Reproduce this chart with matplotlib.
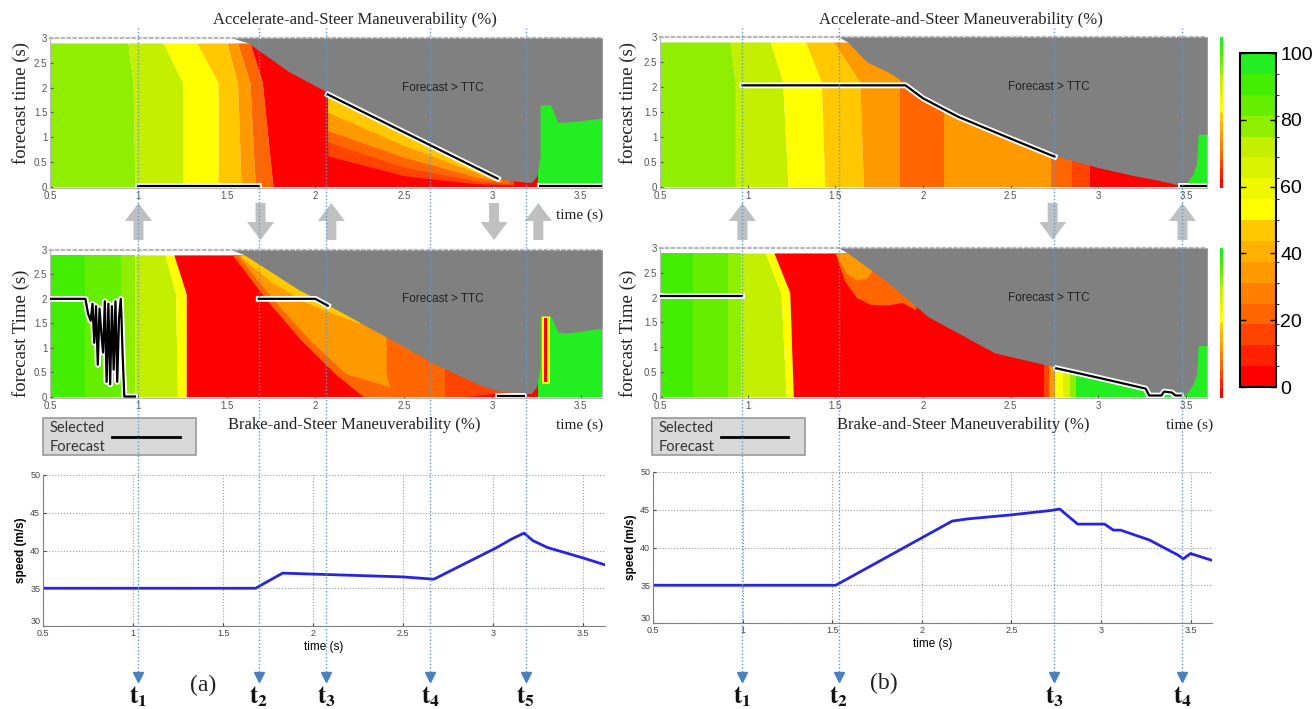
import numpy as np
import matplotlib.pyplot as plt
import matplotlib.patheffects as pe
from matplotlib.colors import ListedColormap, BoundaryNorm
from matplotlib.lines import Line2D
from matplotlib.patches import FancyArrow, Rectangle
from matplotlib.transforms import blended_transform_factory, IdentityTransform
from matplotlib.ticker import FuncFormatter
from matplotlib.cm import ScalarMappable

W, H = 1315, 709
plt.rcParams['font.family'] = ['Liberation Sans', 'DejaVu Sans']
plt.rcParams['mathtext.fontset'] = 'stix'

# maneuverability colour scale, 0..100 %
SCALE_COLORS = ['#ff0000', '#ff2200', '#ff4400', '#ff6600', '#ff8000', '#ff9900',
                '#ffb000', '#ffc800', '#ffff00', '#f0f800', '#d8f200', '#c4f000',
                '#90ee00', '#66ee00', '#44ee00', '#22ee22']
SCALE_TICKS = [0, 20, 40, 60, 80, 100]
GRAY = '#808080'

# ---------------- case (a) ----------------
ACC_A_YK = [0.0, 2.1, 2.9]
ACC_A_EDGES = [[0.50, 0.50, 0.50], [0.98, 0.97, 0.94], [1.25, 1.25, 1.14],
               [1.45, 1.45, 1.33], [1.58, 1.56, 1.50], [1.66, 1.63, 1.56],
               [1.76, 1.70, 1.63], [3.26, 3.26, 3.26], [3.62, 3.62, 3.62]]
ACC_A_VALUES = [78, 72, 53, 47, 34, 22, 3, 97]
ACC_A_COLS = []
ACC_A_STRIPS = [([2.07, 2.5, 2.9, 3.12], [0.62, 0.22, 0.06, 0.03], [2.9, 2.9, 2.9, 2.9], 15),
                ([2.07, 2.5, 2.9, 3.1], [0.90, 0.39, 0.12, 0.06], [2.9, 2.9, 2.9, 2.9], 22),
                ([2.07, 2.5, 2.9, 3.05], [1.13, 0.59, 0.20, 0.09], [2.9, 2.9, 2.9, 2.9], 34),
                ([2.07, 2.5, 2.9, 3.0], [1.50, 0.83, 0.30, 0.15], [2.9, 2.9, 2.9, 2.9], 47)]
ACC_A_TTC_X = [1.53, 1.62, 1.85, 2.07, 3.0, 3.1, 3.22, 3.25, 3.27, 3.27, 3.33, 3.37, 3.42, 3.62]
ACC_A_TTC_Y = [3.0, 2.9, 2.32, 1.90, 0.20, 0.12, 0.08, 0.2, 0.6, 1.65, 1.65, 1.30, 1.30, 1.38]
ACC_A_SEL = [([1.0, 1.68], [0.02, 0.02]),
             ([2.07, 3.03], [1.86, 0.16]),
             ([3.27, 3.62], [0.02, 0.02])]

BRK_A_YK = [0.0, 2.1, 2.9]
BRK_A_EDGES = [[0.50, 0.50, 0.50], [0.70, 0.70, 0.70], [0.90, 0.90, 0.90],
               [0.98, 0.98, 0.98], [1.22, 1.21, 1.15], [1.27, 1.27, 1.20],
               [3.26, 3.26, 3.26], [3.62, 3.62, 3.62]]
BRK_A_VALUES = [90, 84, 78, 72, 53, 3, 97]
BRK_A_COLS = [([0.0, 0.47, 1.15, 1.95, 2.9], [2.27, 2.11, 1.92, 1.73, 1.53], [3.2, 3.2, 3.2, 3.2, 3.2], 22),
              ([0.2, 0.47, 1.15, 1.95, 2.9], [2.42, 2.17, 1.97, 1.77, 1.56], [2.42, 2.40, 2.40, 2.40, 2.40], 34)]
BRK_A_STRIPS = [([1.58, 1.75, 1.95, 2.10, 2.25], [2.85, 2.35, 1.92, 1.70, 1.50], [2.9, 2.9, 2.9, 2.9, 2.9], 47),
                ([2.73, 3.22], [0.0, 0.0], [2.9, 2.9], 15),
                ([2.85, 3.0, 3.22], [0.0, 0.0, 0.0], [0.0, 0.06, 0.06], 3),
                ([3.28, 3.325], [0.25, 0.25], [1.65, 1.65], 53),
                ([3.295, 3.31], [0.3, 0.3], [1.6, 1.6], 3)]
BRK_A_TTC_X = [1.53, 1.60, 1.75, 1.90, 2.07, 2.40, 2.70, 2.94, 3.05, 3.22, 3.25, 3.27, 3.27, 3.33, 3.37, 3.42, 3.62]
BRK_A_TTC_Y = [3.0, 2.9, 2.55, 2.20, 1.88, 1.22, 0.62, 0.22, 0.10, 0.06, 0.2, 0.6, 1.65, 1.65, 1.32, 1.30, 1.40]
BRK_A_SEL = [([0.5, 0.70, 0.715, 0.73, 0.74, 0.75, 0.76, 0.77, 0.78, 0.79, 0.80, 0.81, 0.82,
               0.83, 0.84, 0.85, 0.86, 0.87, 0.88, 0.89, 0.90, 0.905, 0.91, 0.92, 0.98],
              [2.0, 2.0, 1.7, 1.55, 1.9, 1.1, 1.85, 0.65, 1.8, 1.3, 0.9, 1.95, 0.3,
               1.9, 0.25, 1.85, 0.55, 1.95, 0.3, 1.6, 2.0, 1.5, 0.9, 0.0, 0.0]),
             ([1.68, 2.0, 2.07], [2.0, 2.0, 1.86]),
             ([3.03, 3.18], [0.02, 0.02])]

SPEED_A_T = [0.5, 1.68, 1.83, 2.1, 2.5, 2.67, 3.02, 3.1, 3.17, 3.22, 3.3, 3.5, 3.62]
SPEED_A_V = [35.0, 35.0, 37.0, 36.8, 36.5, 36.2, 40.4, 41.5, 42.3, 41.3, 40.4, 39.0, 38.1]
T_MARKS_A = [1.0, 1.68, 2.06, 2.65, 3.19]
ARROWS_A_X = [1.0, 1.69, 2.09, 3.01, 3.26]
ARROWS_A_DIR = ['up', 'down', 'up', 'down', 'up']

# ---------------- case (b) ----------------
ACC_B_YK = [0.0, 2.1, 2.9]
ACC_B_EDGES = [[0.50, 0.50, 0.50], [0.93, 0.93, 0.90], [1.23, 1.20, 1.13],
               [1.44, 1.42, 1.33], [1.66, 1.64, 1.49], [1.87, 1.87, 1.87],
               [2.12, 2.12, 2.12], [2.73, 2.73, 2.73], [2.85, 2.85, 2.85],
               [2.95, 2.95, 2.95], [3.47, 3.47, 3.47], [3.62, 3.62, 3.62]]
ACC_B_VALUES = [78, 72, 53, 47, 34, 22, 34, 22, 15, 3, 97]
ACC_B_COLS = []
ACC_B_STRIPS = []
ACC_B_TTC_X = [1.52, 1.57, 1.68, 1.80, 1.90, 2.0, 2.2, 2.5, 2.75, 3.0, 3.2, 3.35, 3.47, 3.5, 3.54, 3.56, 3.57, 3.62]
ACC_B_TTC_Y = [3.0, 2.9, 2.5, 2.3, 2.08, 1.80, 1.42, 0.98, 0.62, 0.38, 0.22, 0.12, 0.02, 0.05, 0.25, 0.45, 1.05, 1.05]
ACC_B_SEL = [([0.97, 1.9, 2.0, 2.2, 2.5, 2.75], [2.03, 2.03, 1.77, 1.40, 0.96, 0.60]),
             ([3.47, 3.62], [0.02, 0.02])]

BRK_B_YK = [0.0, 2.1, 2.9]
BRK_B_EDGES = [[0.50, 0.50, 0.50], [0.69, 0.69, 0.69], [0.89, 0.89, 0.89],
               [0.96, 0.96, 0.96], [1.22, 1.19, 1.10], [1.26, 1.24, 1.15],
               [2.69, 2.69, 2.69], [2.72, 2.72, 2.72], [2.755, 2.755, 2.755],
               [2.80, 2.80, 2.80], [2.84, 2.84, 2.84], [2.87, 2.87, 2.87],
               [3.62, 3.62, 3.62]]
BRK_B_VALUES = [90, 84, 78, 72, 53, 3, 15, 34, 53, 65, 78, 97]
BRK_B_COLS = []
BRK_B_STRIPS = [([1.50, 1.55, 1.62, 1.70, 1.80, 1.88, 1.96], [2.9, 2.35, 2.0, 1.86, 1.85, 1.90, 1.75], [2.9] * 7, 22),
                ([1.50, 1.56, 1.62, 1.68, 1.72], [2.9, 2.5, 2.35, 2.40, 2.60], [2.9] * 5, 34)]
BRK_B_TTC_X = [1.52, 1.57, 1.78, 2.03, 2.41, 2.75, 3.0, 3.27, 3.29, 3.36, 3.375, 3.42, 3.44, 3.47, 3.5, 3.54, 3.56, 3.57, 3.62]
BRK_B_TTC_Y = [3.0, 2.9, 2.36, 1.61, 0.88, 0.60, 0.40, 0.18, 0.04, 0.04, 0.12, 0.10, 0.04, 0.02, 0.05, 0.25, 0.45, 1.03, 1.03]
BRK_B_SEL = [([0.5, 0.97], [2.03, 2.03]),
             ([2.76, 3.0, 3.27, 3.29, 3.36, 3.375, 3.42, 3.44, 3.47],
              [0.57, 0.38, 0.16, 0.02, 0.02, 0.10, 0.08, 0.02, 0.02])]

SPEED_B_T = [0.5, 1.52, 2.17, 2.26, 2.49, 2.72, 2.77, 2.87, 3.02, 3.07, 3.11, 3.27, 3.43, 3.46, 3.5, 3.62]
SPEED_B_V = [35.0, 35.0, 43.5, 43.8, 44.3, 44.9, 45.1, 43.1, 43.1, 42.3, 42.3, 41.0, 39.0, 38.5, 39.2, 38.3]
T_MARKS_B = [0.97, 1.52, 2.75, 3.48]
ARROWS_B_X = [0.97, 2.74, 3.48]
ARROWS_B_DIR = ['up', 'down', 'up']

XLIM = (0.5, 3.62)

cmap = ListedColormap(SCALE_COLORS)
norm = BoundaryNorm(np.linspace(0, 100, len(SCALE_COLORS) + 1), cmap.N)


def col(v):
    return cmap(norm(v))


def box(x0, y0, x1, y1):
    # pixel box (top-left origin) -> figure fraction rect
    return [x0 / W, 1 - y1 / H, (x1 - x0) / W, (y1 - y0) / H]


def fx(x):
    return x / W


def fy(y):
    return 1 - y / H


fmt = FuncFormatter(lambda v, _: f'{v:g}')

fig = plt.figure(figsize=(W / 100, H / 100), dpi=100)


def heatmap(rect, yk, edges, values, cols, strips, ttc_x, ttc_y, sel):
    ax = fig.add_axes(box(*rect))
    for i, v in enumerate(values):
        ax.fill_betweenx(yk, edges[i], edges[i + 1], color=col(v), lw=0, zorder=1)
    for y, xl, xr, v in cols:
        ax.fill_betweenx(y, xl, xr, color=col(v), lw=0, zorder=2)
    for x, lo, hi, v in strips:
        ax.fill_between(x, lo, hi, color=col(v), lw=0, zorder=2)
    ax.fill_between(ttc_x, ttc_y, 3.0, color=GRAY, lw=0, zorder=3)
    for x, y in sel:
        ax.plot(x, y, color='black', lw=1.6, zorder=4, solid_joinstyle='round',
                path_effects=[pe.withStroke(linewidth=4.2, foreground='white')])
    ax.set_xlim(*XLIM)
    ax.set_ylim(-0.03, 3.0)
    ax.set_xticks([0.5, 1, 1.5, 2, 2.5, 3, 3.5])
    ax.set_yticks([0, 0.5, 1, 1.5, 2, 2.5, 3])
    ax.xaxis.set_major_formatter(fmt)
    ax.yaxis.set_major_formatter(fmt)
    ax.tick_params(direction='in', length=2, labelsize=7, pad=2, colors='#555555')
    for s in ax.spines.values():
        s.set_color('#b8b8b8')
        s.set_linewidth(0.8)
    ax.spines['top'].set_linestyle(':')
    ax.spines['top'].set_linewidth(1.6)
    ax.text(2.72, 2.0, 'Forecast > TTC', fontsize=8.5, color='#222222',
            ha='center', va='center', zorder=5)
    return ax


def speed(rect, t, v):
    ax = fig.add_axes(box(*rect))
    ax.plot(t, v, color='#2626e0', lw=2)
    ax.set_xlim(*XLIM)
    ax.set_ylim(30, 50)
    ax.set_xticks([0.5, 1, 1.5, 2, 2.5, 3, 3.5])
    ax.set_yticks([30, 35, 40, 45, 50])
    ax.xaxis.set_major_formatter(fmt)
    ax.grid(True, ls=':', color='#9a9a9a', lw=0.8)
    ax.tick_params(direction='in', length=2, labelsize=6.5, pad=2, colors='#444444')
    for s in ['top', 'right']:
        ax.spines[s].set_visible(False)
    for s in ['left', 'bottom']:
        ax.spines[s].set_color('#808080')
    ax.set_xlabel('time (s)', fontsize=8.5, labelpad=2)
    ax.set_ylabel('speed (m/s)', fontsize=8.5, fontweight='bold', labelpad=2)
    # the lowest y label sits just above the corner, clear of the first x label
    ax.get_yticklabels()[0].set_verticalalignment('bottom')
    return ax


ax_acc_a = heatmap((50, 38, 602, 188), ACC_A_YK, ACC_A_EDGES, ACC_A_VALUES, ACC_A_COLS,
                   ACC_A_STRIPS, ACC_A_TTC_X, ACC_A_TTC_Y, ACC_A_SEL)
ax_brk_a = heatmap((50, 250, 602, 398), BRK_A_YK, BRK_A_EDGES, BRK_A_VALUES, BRK_A_COLS,
                   BRK_A_STRIPS, BRK_A_TTC_X, BRK_A_TTC_Y, BRK_A_SEL)
ax_acc_b = heatmap((660, 37, 1207, 188), ACC_B_YK, ACC_B_EDGES, ACC_B_VALUES, ACC_B_COLS,
                   ACC_B_STRIPS, ACC_B_TTC_X, ACC_B_TTC_Y, ACC_B_SEL)
ax_brk_b = heatmap((660, 248, 1207, 398), BRK_B_YK, BRK_B_EDGES, BRK_B_VALUES, BRK_B_COLS,
                   BRK_B_STRIPS, BRK_B_TTC_X, BRK_B_TTC_Y, BRK_B_SEL)
ax_spd_a = speed((43, 475, 605, 626), SPEED_A_T, SPEED_A_V)
ax_spd_b = speed((653, 472, 1212, 623), SPEED_B_T, SPEED_B_V)

# serif captions
serif = dict(family='Liberation Serif', color='#222222')
fig.text(fx(355), fy(20), 'Accelerate-and-Steer Maneuverability (%)', ha='center', va='center', fontsize=12, **serif)
fig.text(fx(961), fy(20), 'Accelerate-and-Steer Maneuverability (%)', ha='center', va='center', fontsize=12, **serif)
fig.text(fx(354), fy(425), 'Brake-and-Steer Maneuverability (%)', ha='center', va='center', fontsize=12, **serif)
fig.text(fx(963), fy(425), 'Brake-and-Steer Maneuverability (%)', ha='center', va='center', fontsize=12, **serif)
for xr, yc in [(603, 215), (603, 425), (1213, 425)]:
    fig.text(fx(xr), fy(yc), 'time (s)', ha='right', va='center', fontsize=11, **serif)
for xc, yc, lab in [(21, 103, 'forecast time (s)'), (21, 333, 'forecast Time (s)'),
                    (628, 103, 'forecast time (s)'), (628, 333, 'forecast Time (s)')]:
    fig.text(fx(xc), fy(yc), lab, rotation=90, ha='center', va='center', fontsize=13.5, **serif)
fig.text(fx(203), fy(685), '(a)', ha='center', va='center', fontsize=17, **serif)
fig.text(fx(884), fy(683), '(b)', ha='center', va='center', fontsize=17, **serif)

# "Selected Forecast" key boxes
for x0, lx0, lx1 in [(43, 112, 180), (652, 721, 788)]:
    fig.add_artist(Rectangle((fx(x0), fy(455)), 153 / W, 37 / H, transform=fig.transFigure,
                             fc='#d9d9d9', ec='#9a9a9a', lw=1.2))
    fig.text(fx(x0 + 7), fy(428), 'Selected', fontsize=10.5, va='center', family='Lato', color='#333333')
    fig.text(fx(x0 + 7), fy(447), 'Forecast', fontsize=10.5, va='center', family='Lato', color='#333333')
    fig.add_artist(Line2D([fx(lx0), fx(lx1)], [fy(437), fy(437)], transform=fig.transFigure,
                          color='black', lw=2))

# gray arrows between the two maneuverability maps
fig.canvas.draw()
for ax, xs, dirs in [(ax_acc_a, ARROWS_A_X, ARROWS_A_DIR), (ax_acc_b, ARROWS_B_X, ARROWS_B_DIR)]:
    for x, d in zip(xs, dirs):
        xp = ax.transData.transform((x, 0))[0]
        y_top, y_bot = H - 203, H - 240
        if d == 'up':
            start, dy = y_bot, y_top - y_bot
        else:
            start, dy = y_top, y_bot - y_top
        fig.add_artist(FancyArrow(xp, start, 0, dy, width=10, head_width=27, head_length=18,
                                  length_includes_head=True, transform=IdentityTransform(),
                                  fc='#c0c0c0', ec='none'))

# time markers t1..tn running down the whole column
for ax, marks in [(ax_acc_a, T_MARKS_A), (ax_acc_b, T_MARKS_B)]:
    tr = blended_transform_factory(ax.transData, fig.transFigure)
    for i, x in enumerate(marks):
        fig.add_artist(Line2D([x, x], [fy(28), fy(674)], transform=tr, color='#5b9bd5',
                              lw=1, ls=(0, (1, 1.5))))
        fig.add_artist(Line2D([x], [fy(677)], transform=tr, marker='v', ms=6.5,
                              color='#4a7fc0', lw=0))
        fig.text(x, fy(697), r'$\mathbf{t_{%d}}$' % (i + 1), transform=tr,
                 ha='center', va='center', fontsize=18, color='#111111')

# colour scale
cax = fig.add_axes(box(1240, 53, 1276, 387))
cb = fig.colorbar(ScalarMappable(norm=norm, cmap=cmap), cax=cax, ticks=SCALE_TICKS)
cb.outline.set_linewidth(1.5)
cax.tick_params(labelsize=14, direction='in', length=4, width=1, left=True, right=True, pad=3)
cax.set_yticklabels([str(t) for t in SCALE_TICKS])

# thin scale strips next to the (b) maps
for y0, y1 in [(37, 188), (248, 398)]:
    sax = fig.add_axes(box(1220, y0, 1223, y1))
    sax.imshow(np.linspace(100, 0, 64)[:, None], cmap=cmap, norm=norm, aspect='auto')
    sax.set_axis_off()

fig.savefig('out.png', dpi=100)
